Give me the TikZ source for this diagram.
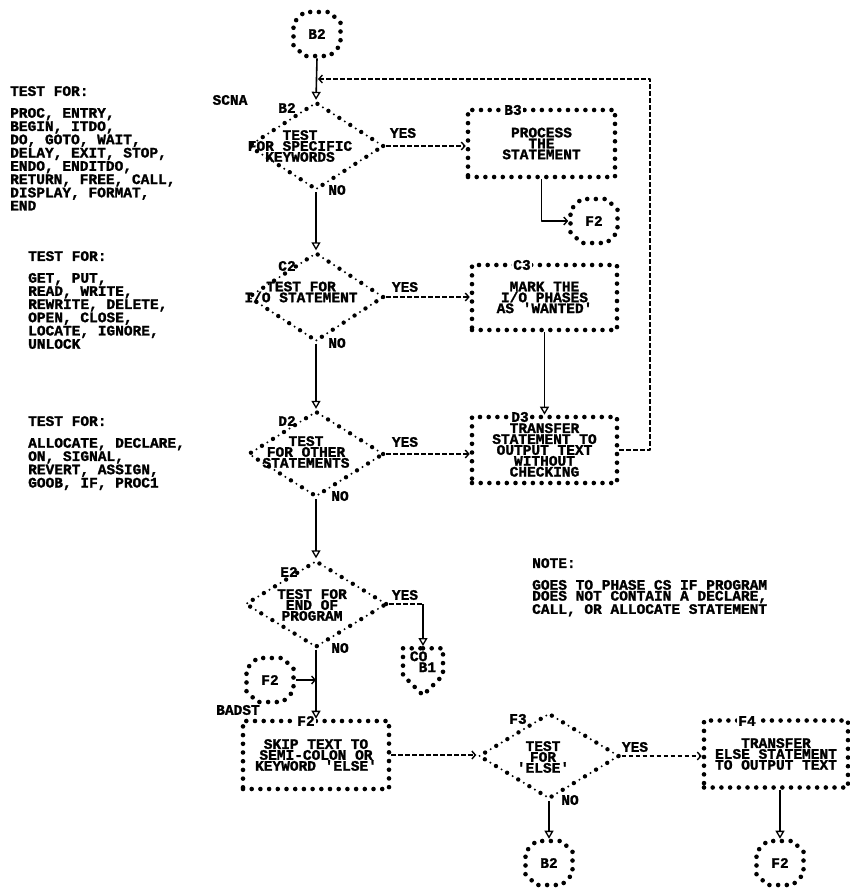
\documentclass[tikz,border=0pt]{standalone}
\usepackage{fontspec}
\setmonofont{Liberation Mono}
\newfontfamily\lpfont{Liberation Mono}[BoldFeatures={FakeBold=1.6}]
\usetikzlibrary{arrows.meta,shapes.geometric,shapes.misc,shapes.symbols}

\tikzset{
  lp/.style={font=\lpfont\bfseries\fontsize{14.5bp}{10.9bp}\selectfont, inner sep=0pt, align=center},
  stars/.style={draw, line width=4.6bp, line cap=round, dash pattern=on 0bp off 8.7bp},
  procbox/.style={rectangle, stars, lp},
  connector/.style={chamfered rectangle, chamfered rectangle xsep=6bp, chamfered rectangle ysep=6bp,
    stars, lp, minimum width=47bp, minimum height=44bp},
  offpage/.style={signal, signal to=south, stars, lp, align=left},
  decision/.style={diamond, draw, inner sep=0pt, line width=4.4bp, line cap=round,
    dash pattern=on 0bp off 13bp,
    postaction={draw, line width=2.2bp, line cap=round, dash pattern=on 0bp off 13bp, dash phase=6.5bp}},
  flow/.style={line width=1.6bp, -{Triangle[open, length=8bp, width=9bp, line width=1.3bp]}},
  jump/.style={line width=1.6bp, -{Straight Barb[length=3.5bp, width=8bp, line width=1.4bp]}},
  yes/.style={line width=1.4bp, dash pattern=on 4.5bp off 2.5bp, -{Straight Barb[length=3.5bp, width=8bp, line width=1.4bp]}},
  idlbl/.style={lp, fill=white, inner xsep=1.5bp},
}

\begin{document}
\begin{tikzpicture}[x=1bp,y=-1bp,line join=bevel]
\useasboundingbox (0,0) rectangle (850,890);
  % Notes
  \node[lp, align=left, anchor=north west] (testkw) at (10,86) {TEST FOR:\\[10.9bp]PROC, ENTRY,\\BEGIN, ITDO,\\DO, GOTO, WAIT,\\DELAY, EXIT, STOP,\\ENDO, ENDITDO,\\RETURN, FREE, CALL,\\DISPLAY, FORMAT,\\END};
  \node[lp, align=left, anchor=north west] (testio) at (28,251) {TEST FOR:\\[10.9bp]GET, PUT,\\READ, WRITE,\\REWRITE, DELETE,\\OPEN, CLOSE,\\LOCATE, IGNORE,\\UNLOCK};
  \node[lp, align=left, anchor=north west] (testother) at (28,416) {TEST FOR:\\[10.9bp]ALLOCATE, DECLARE,\\ON, SIGNAL,\\REVERT, ASSIGN,\\GOOB, IF, PROC1};
  \node[lp, align=left, anchor=north west] (note) at (532,558) {NOTE:\\[10.9bp]GOES TO PHASE CS IF PROGRAM\\DOES NOT CONTAIN A DECLARE,\\CALL, OR ALLOCATE STATEMENT};
  \node[lp] (scna) at (230,100) {SCNA};
  \node[lp] (badst) at (238,710) {BADST};
  % Node: b2top
  \node[connector] (b2top) at (317,34) {B2};
  % Node: b2
  \node[decision, minimum width=136bp, minimum height=88bp] (b2) at (316,146) {};
  \node[lp] (b2txt) at (300,146) {TEST\\FOR SPECIFIC\\KEYWORDS};
  \node[lp] (b2id) at (287,108) {B2};
  % Node: b3
  \node[procbox, minimum width=147bp, minimum height=67bp] (b3) at (541.5,143.5) {PROCESS\\THE\\STATEMENT};
  \node[idlbl] (b3id) at (513,110) {B3};
  % Node: f2a
  \node[connector] (f2a) at (594,221) {F2};
  % Node: c2
  \node[decision, minimum width=136bp, minimum height=89bp] (c2) at (316,297) {};
  \node[lp] (c2txt) at (301,292) {TEST FOR\\I/O STATEMENT};
  \node[lp] (c2id) at (287,266) {C2};
  % Node: c3
  \node[procbox, minimum width=145bp, minimum height=65bp] (c3) at (544.5,297.5) {MARK THE\\I/O PHASES\\AS 'WANTED'};
  \node[idlbl] (c3id) at (522,265) {C3};
  % Node: d2
  \node[decision, minimum width=136bp, minimum height=86bp] (d2) at (316,454) {};
  \node[lp] (d2txt) at (306,452) {TEST\\FOR OTHER\\STATEMENTS};
  \node[lp] (d2id) at (287,421) {D2};
  % Node: d3
  \node[procbox, minimum width=145bp, minimum height=66bp] (d3) at (544.5,450) {TRANSFER\\STATEMENT TO\\OUTPUT TEXT\\WITHOUT\\CHECKING};
  \node[idlbl] (d3id) at (520,417) {D3};
  % Node: e2
  \node[decision, minimum width=142bp, minimum height=87bp] (e2) at (316,604) {};
  \node[lp] (e2txt) at (312,605) {TEST FOR\\END OF\\PROGRAM};
  \node[lp] (e2id) at (289,572) {E2};
  % Node: cob1
  \node[offpage, anchor=north, minimum width=40bp, minimum height=40bp] (cob1) at (423,646) {CO\\\phantom{C}B1};
  % Node: f2b
  \node[connector] (f2b) at (270,680) {F2};
  % Node: f2
  \node[procbox, minimum width=146bp, minimum height=68bp] (f2) at (316,755) {SKIP TEXT TO\\SEMI-COLON OR\\KEYWORD 'ELSE'};
  \node[idlbl] (f2id) at (306,721) {F2};
  % Node: f3
  \node[decision, minimum width=141bp, minimum height=86bp] (f3) at (549,756) {};
  \node[lp] (f3txt) at (543,757) {TEST\\FOR\\'ELSE'};
  \node[lp] (f3id) at (518,719) {F3};
  % Node: f4
  \node[procbox, minimum width=144bp, minimum height=67bp] (f4) at (776,754) {TRANSFER\\ELSE STATEMENT\\TO OUTPUT TEXT};
  \node[idlbl] (f4id) at (747,721) {F4};
  % Node: b2bot
  \node[connector] (b2bot) at (549,863) {B2};
  % Node: f2c
  \node[connector] (f2c) at (780,863) {F2};
  % Edge labels
  \node[lp] (b2yes) at (403,133) {YES};
  \node[lp] (b2no) at (337,190) {NO};
  \node[lp] (c2yes) at (405,287) {YES};
  \node[lp] (c2no) at (337,343) {NO};
  \node[lp] (d2yes) at (405,442) {YES};
  \node[lp] (d2no) at (340,496) {NO};
  \node[lp] (e2yes) at (405,595) {YES};
  \node[lp] (e2no) at (340,648) {NO};
  \node[lp] (f3yes) at (635,747) {YES};
  \node[lp] (f3no) at (570,800) {NO};
  \coordinate (loop) at (650,79);
  \coordinate (joinb2) at (318,79);
  % Edge: b2top -> b2
  \draw[flow] (b2top.south) -- (b2.north);
  % Edge: b2 -> b3
  \draw[yes] (b2.east) -- (b2.east -| b3.west);
  % Edge: b3 -> f2a
  \draw[jump] (b3.south) |- (f2a.west);
  % Edge: b2 -> c2
  \draw[flow] (b2.south) -- (c2.north);
  % Edge: c2 -> c3
  \draw[yes] (c2.east) -- (c2.east -| c3.west);
  % Edge: c3 -> d3
  \draw[flow] (c3.south) -- (d3.north);
  % Edge: c2 -> d2
  \draw[flow] (c2.south) -- (d2.north);
  % Edge: d2 -> d3
  \draw[yes] (d2.east) -- (d2.east -| d3.west);
  % Edge: d3 -> b2
  \draw[yes] (d3.east) -| (loop) -- (joinb2);
  % Edge: d2 -> e2
  \draw[flow] (d2.south) -- (e2.north);
  % Edge: e2 -> cob1
  \draw[yes, -] (e2.east) -- (e2.east -| cob1.north);
  \draw[flow] (e2.east -| cob1.north) -- (cob1.north);
  % Edge: e2 -> f2
  \draw[flow] (e2.south) -- (f2.north);
  % Edge: f2b -> f2
  \draw[jump] (f2b.east) -- (f2b.east -| f2.north);
  % Edge: f2 -> f3
  \draw[yes] (f2.east) -- (f2.east -| f3.west);
  % Edge: f3 -> f4
  \draw[yes] (f3.east) -- (f3.east -| f4.west);
  % Edge: f3 -> b2bot
  \draw[flow] (f3.south) -- (b2bot.north);
  % Edge: f4 -> f2c
  \draw[flow] (f2c.north |- f4.south) -- (f2c.north);
%
\end{tikzpicture}
\end{document}
